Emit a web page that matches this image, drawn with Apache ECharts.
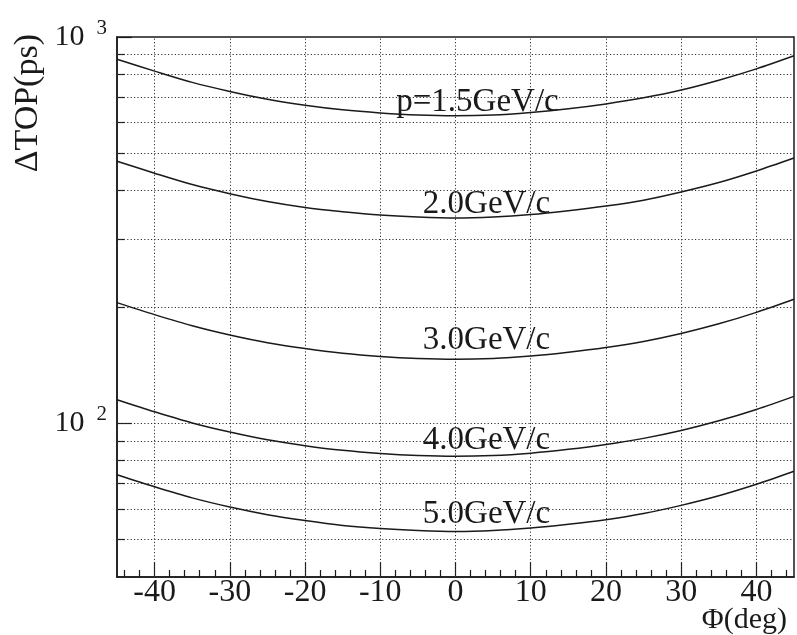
<!DOCTYPE html>
<html>
<head>
<meta charset="utf-8">
<script src="https://cdn.jsdelivr.net/npm/echarts@6/dist/echarts.min.js"></script>
<style>
  html, body { margin: 0; padding: 0; background: #ffffff; }
  #chart { width: 797px; height: 635px; }
</style>
</head>
<body>
<div id="chart"></div>
<script>
// Incidence angle Φ (deg) at which ΔTOP was evaluated
const phiDeg = [-45, -40, -35, -30, -25, -20, -15, -10, -5, 0, 5, 10, 15, 20, 25, 30, 35, 40, 45];

// ΔTOP (ps) for each momentum
const dtop15 = [876, 816, 763, 723, 690, 666, 648, 636, 628, 625, 628, 638, 652, 671, 696, 729, 773, 827, 894];
const dtop20 = [477, 444, 415, 393, 375, 362, 353, 346, 342, 340, 342, 347, 355, 365, 378, 397, 420, 450, 486];
const dtop30 = [205.3, 191.1, 178.8, 169.2, 161.6, 156.1, 151.8, 148.9, 147.1, 146.4, 147.1, 149.3, 152.7, 157.1, 162.9, 170.8, 180.9, 193.7, 209.4];
const dtop40 = [115.1, 107.1, 100.2, 94.9, 90.6, 87.5, 85.1, 83.5, 82.5, 82.1, 82.5, 83.7, 85.6, 88.1, 91.4, 95.8, 101.5, 108.6, 117.4];
const dtop50 = [73.6, 68.5, 64.1, 60.7, 58.0, 56.0, 54.4, 53.4, 52.8, 52.5, 52.8, 53.6, 54.8, 56.3, 58.4, 61.3, 64.9, 69.5, 75.1];

const curveNames = ['p=1.5GeV/c', '2.0GeV/c', '3.0GeV/c', '4.0GeV/c', '5.0GeV/c'];

// Axis tick values
const xMajorTicks = [-40, -30, -20, -10, 0, 10, 20, 30, 40];
const xMinorTicks = [-44, -42, -38, -36, -34, -32, -28, -26, -24, -22, -18, -16, -14, -12,
                     -8, -6, -4, -2, 2, 4, 6, 8, 12, 14, 16, 18, 22, 24, 26, 28,
                     32, 34, 36, 38, 42, 44];
const yDecadeTicks = [100, 1000];
const yMinorTicks = [50, 60, 70, 80, 90, 200, 300, 400, 500, 600, 700, 800, 900];
const yGridValues = [50, 60, 70, 80, 90, 100, 200, 300, 400, 500, 600, 700, 800, 900];

const allCurves = [dtop15, dtop20, dtop30, dtop40, dtop50];

// where each momentum tag sits relative to the Φ = 0 point
const tagOffsets = [[22, 3], [31, 3], [31, -2], [31, 1], [31, 0]];
const tagIndex = phiDeg.indexOf(0);

const serif = '"Liberation Serif", "DejaVu Serif", "Times New Roman", serif';
const ink = '#1a1a1a';
const dotted = { color: '#333333', width: 1, type: [1.2, 2.2] };

const gridMarks = [];
xMajorTicks.forEach(v => gridMarks.push({ xAxis: v }));
yGridValues.forEach(v => gridMarks.push({ yAxis: v }));

const series = allCurves.map((vals, i) => ({
  type: 'line',
  smooth: 0.3,
  showSymbol: true,
  showAllSymbol: true,
  symbol: 'circle',
  symbolSize: 1,
  itemStyle: { color: 'rgba(0,0,0,0)' },
  z: 3,
  lineStyle: { color: ink, width: 1.5 },
  emphasis: { disabled: true },
  data: phiDeg.map((x, k) => {
    const item = { value: [x, vals[k]] };
    if (k === tagIndex) {
      item.label = {
        show: true,
        position: 'top',
        distance: 0,
        offset: tagOffsets[i],
        formatter: curveNames[i],
        fontFamily: serif,
        fontSize: 33,
        color: ink
      };
    }
    return item;
  }),
  markLine: i === 0 ? {
    silent: true,
    symbol: ['none', 'none'],
    label: { show: false },
    lineStyle: dotted,
    z: 1,
    data: gridMarks
  } : undefined
}));

const chart = echarts.init(document.getElementById('chart'), null, { renderer: 'canvas' });
chart.setOption({
  backgroundColor: '#ffffff',
  animation: false,
  grid: {
    left: 117, right: 3, top: 37, bottom: 58,
    outerBoundsMode: 'none',
    containLabel: false,
    show: true, borderColor: ink, borderWidth: 1.5, backgroundColor: 'transparent'
  },
  xAxis: [{
    type: 'value', min: -45, max: 45,
    name: 'Φ(deg)',
    nameLocation: 'end',
    nameGap: -7,
    nameMoveOverlap: false,
    nameTextStyle: { fontFamily: serif, fontSize: 30, color: ink, align: 'right', verticalAlign: 'top', padding: [28, 0, 0, 0] },
    axisLine: { show: true, onZero: false, lineStyle: { color: ink, width: 1.5 } },
    axisTick: { show: true, inside: true, length: 15, customValues: xMajorTicks, lineStyle: { color: ink, width: 1.2 } },
    axisLabel: { customValues: xMajorTicks, fontFamily: serif, fontSize: 32, color: ink, margin: 0 },
    splitLine: { show: false }
  }, {
    type: 'value', min: -45, max: 45, position: 'bottom',
    axisLine: { show: false, onZero: false },
    axisTick: { show: true, inside: true, length: 7, customValues: xMinorTicks, lineStyle: { color: ink, width: 1.2 } },
    axisLabel: { show: false },
    splitLine: { show: false }
  }],
  yAxis: [{
    type: 'log', logBase: 10, min: 40, max: 1000,
    name: 'ΔTOP(ps)',
    nameLocation: 'end',
    nameGap: 3,
    nameRotate: 90,
    nameMoveOverlap: false,
    nameTextStyle: { fontFamily: serif, fontSize: 34, color: ink, align: 'right', verticalAlign: 'bottom', padding: [0, 0, 72, 0] },
    axisLine: { show: true, onZero: false, lineStyle: { color: ink, width: 1.5 } },
    axisTick: { show: true, inside: true, length: 15, customValues: yDecadeTicks, lineStyle: { color: ink, width: 1.2 } },
    axisLabel: {
      customValues: yDecadeTicks,
      margin: 10,
      formatter: v => '{m|10}{e|' + Math.round(Math.log10(v)) + '}',
      rich: {
        m: { fontFamily: serif, fontSize: 30, color: ink },
        e: { fontFamily: serif, fontSize: 21, color: ink, padding: [0, 0, 18, 12] }
      }
    },
    splitLine: { show: false }
  }, {
    type: 'log', logBase: 10, min: 40, max: 1000, position: 'left', offset: 0,
    axisLine: { show: false, onZero: false },
    axisTick: { show: true, inside: true, length: 8, customValues: yMinorTicks, lineStyle: { color: ink, width: 1.2 } },
    axisLabel: { show: false },
    splitLine: { show: false }
  }],
  series: series
});
</script>
</body>
</html>
